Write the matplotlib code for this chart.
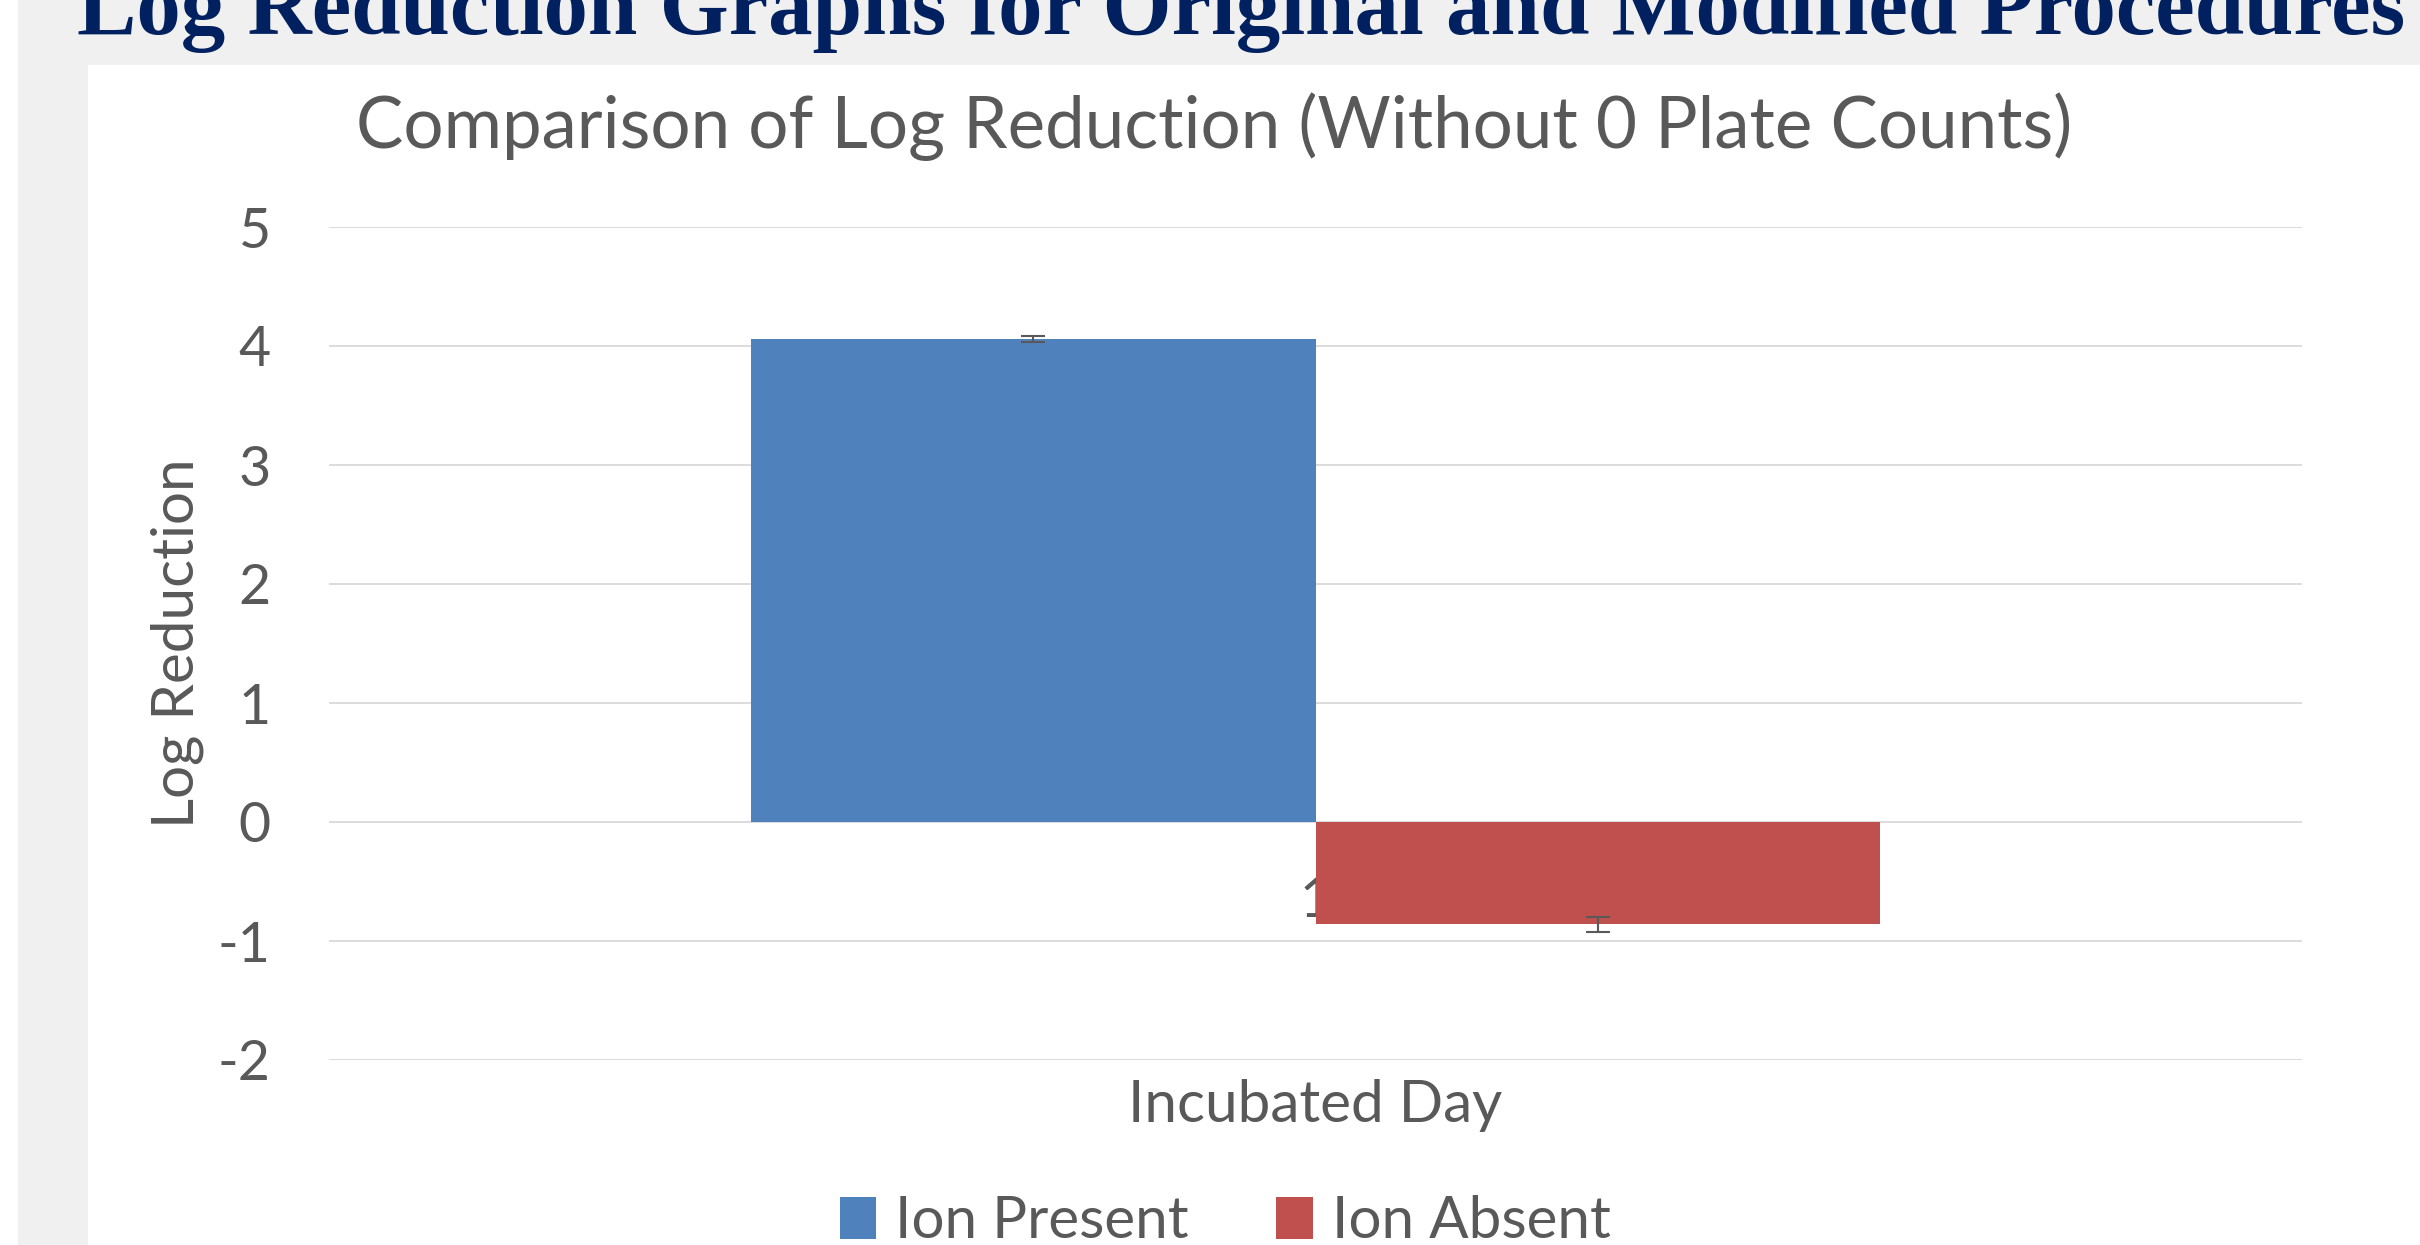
import matplotlib
matplotlib.use("Agg")
import matplotlib.pyplot as plt
from matplotlib.patches import Rectangle

# data
categories = ["1"]
series = ["Ion Present", "Ion Absent"]
ion_present = [4.06]
ion_present_err = [0.025]
ion_absent = [-0.86]
ion_absent_err = [0.063]
yticks = [-2, -1, 0, 1, 2, 3, 4, 5]

blue = "#4F81BD"
red = "#C0504D"
grey_txt = "#595959"

plt.rcParams["font.family"] = ["Lato", "DejaVu Sans"]

W, H = 2420, 1245
fig = plt.figure(figsize=(W / 100, H / 100), dpi=100)

# slide background: grey band and white chart panel
fig.patches.append(Rectangle((18 / W, 0), 1 - 18 / W, 1, transform=fig.transFigure,
                             color="#F0F0F0", zorder=-10))
fig.patches.append(Rectangle((88 / W, 0), 1 - 88 / W, 1 - 65 / H, transform=fig.transFigure,
                             color="white", zorder=-9))

fig.text(77 / W, 1 - 34 / H, "Log Reduction Graphs for Original and Modified Procedures",
         family=["Liberation Serif", "DejaVu Serif"], weight="bold", fontsize=64,
         color="#002060", ha="left", va="baseline")

fig.text(1214 / W, 1 - 127 / H, "Comparison of Log Reduction (Without 0 Plate Counts)",
         fontsize=51, color=grey_txt, ha="center", va="center")

ax = fig.add_axes([329 / W, 1 - 1060 / H, (2302 - 329) / W, (1060 - 227) / H])
ax.set_facecolor("none")

w = 0.286
x = [0]
ekw = dict(ecolor=grey_txt, elinewidth=1.5, capsize=8.5, capthick=1.5)
ax.bar([v - w / 2 for v in x], ion_present, w, color=blue, label=series[0],
       yerr=ion_present_err, error_kw=ekw)
ax.bar([v + w / 2 for v in x], ion_absent, w, color=red, label=series[1],
       yerr=ion_absent_err, error_kw=ekw)

ax.set_xlim(-0.5, 0.5)
ax.set_ylim(-2, 5)
ax.set_yticks(yticks)
ax.set_yticklabels([str(t) for t in yticks])
ax.set_xticks(x)
ax.set_xticklabels(categories)

ax.set_axisbelow(True)
ax.grid(axis="y", color="#D9D9D9", linewidth=1.3)
for s in ["top", "right", "left"]:
    ax.spines[s].set_visible(False)
ax.spines["bottom"].set_position(("data", 0))
ax.spines["bottom"].set_visible(False)
ax.tick_params(axis="y", length=0, pad=42, labelsize=40, labelcolor=grey_txt)
ax.tick_params(axis="x", length=0, pad=39, labelsize=40, labelcolor=grey_txt)

ax.set_ylabel("Log Reduction", fontsize=42, color=grey_txt)
ax.yaxis.set_label_coords(-0.077, 0.5)
ax.yaxis.label.set_va("center")
ax.set_xlabel("Incubated Day", fontsize=42, color=grey_txt)
ax.xaxis.set_label_coords(0.5, -0.055)
ax.xaxis.label.set_va("center")

fig.legend(loc="center", bbox_to_anchor=(1225 / W, 1 - 1222 / H), ncol=2, frameon=False,
           fontsize=42, labelcolor=grey_txt, handlelength=0.63, handleheight=0.72,
           handletextpad=0.32, columnspacing=1.5)

fig.savefig("out.png", dpi=100)
